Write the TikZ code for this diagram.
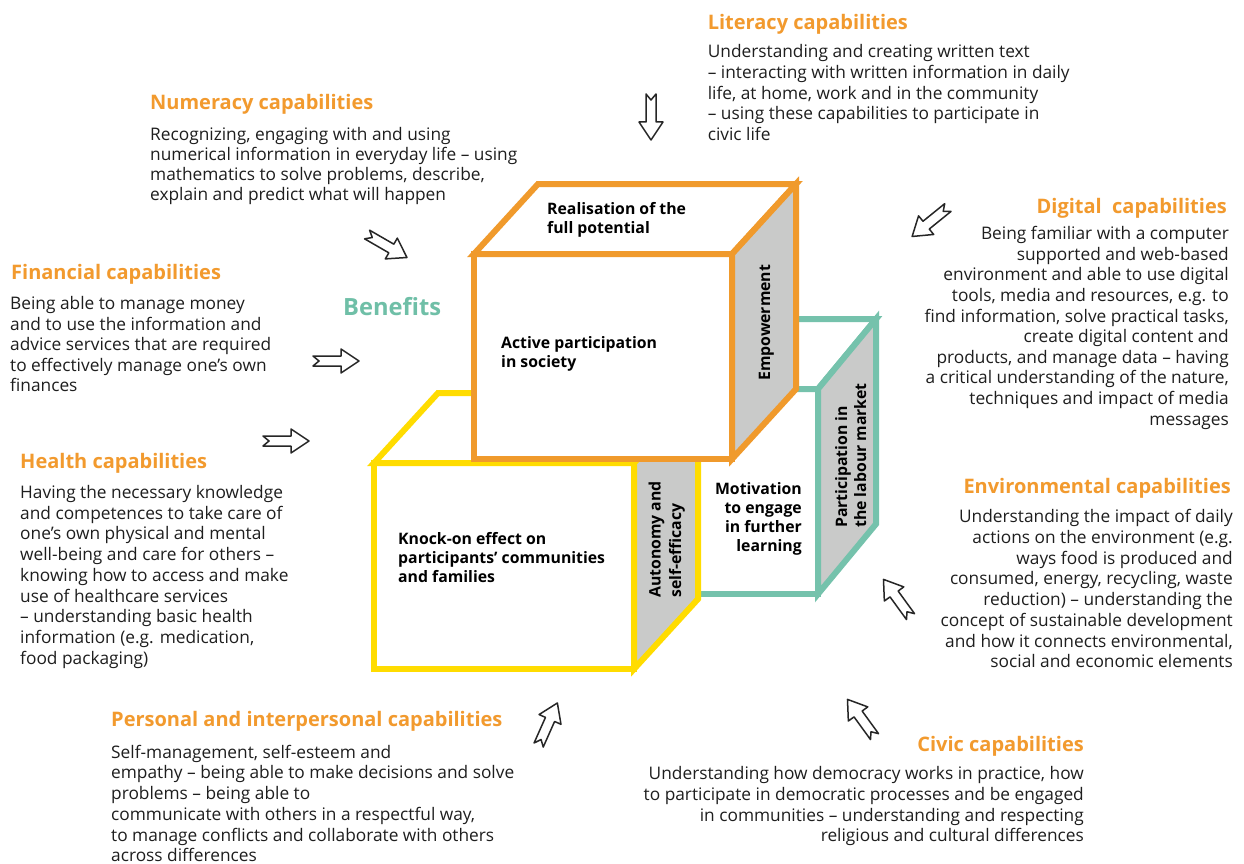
\documentclass[tikz,border=0pt]{standalone}
\usepackage{fontspec}
\setmainfont{Open Sans}
\usepackage{tikz}
\usetikzlibrary{positioning}
\definecolor{capOrange}{HTML}{F29A2E}
\definecolor{cubeOrange}{HTML}{F09A2C}
\definecolor{cubeYellow}{HTML}{FFDC00}
\definecolor{cubeTeal}{HTML}{75C2AC}
\definecolor{sideGray}{HTML}{C9CAC9}
\definecolor{benefitTeal}{HTML}{6FBFA7}
\definecolor{bodyText}{HTML}{1E1E1E}
\tikzset{caphead/.style={font=\fontsize{20}{24}\selectfont\bfseries, text=capOrange, inner sep=0pt},
  capbody/.style={font=\fontsize{17.3}{20.5}\selectfont, text=bodyText, inner sep=0pt, align=left},
  capbodyr/.style={capbody, align=right},
  cubelabel/.style={font=\fontsize{15.8}{19}\selectfont\bfseries, text=black, inner sep=0pt, align=left},
  cubeline/.style={line width=6pt},
  sketcharrow/.pic={\filldraw[fill=white, draw=black!85, line width=1.5pt, line join=round]
    (-23,-5) -- (5,-5) -- (5,-12) -- (23,0) -- (5,12) -- (5,5) -- (-23,5) -- (-17,0) -- cycle;},}
\begin{document}
\begin{tikzpicture}[x=1pt, y=-1pt]
       \fill[white] (0,0) rectangle (1244,864);
       \useasboundingbox (0,0) rectangle (1244,864);

       \filldraw[cubeline, draw=cubeTeal, fill=white] (558,389) rectangle (818,594);
       \filldraw[cubeline, draw=cubeTeal, fill=white] (558,389) -- ++(58,-70) -- ++(260,0) -- (818,389) -- cycle;
       \filldraw[cubeline, draw=cubeTeal, fill=sideGray] (818,389) -- ++(58,-70) -- ++(0,205) -- (818,594) -- cycle;

       \filldraw[cubeline, draw=cubeYellow, fill=white] (374,463) rectangle (634,669);
       \filldraw[cubeline, draw=cubeYellow, fill=white] (374,463) -- ++(64,-70) -- ++(260,0) -- (634,463) -- cycle;
       \filldraw[cubeline, draw=cubeYellow, fill=sideGray] (634,463) -- ++(64,-70) -- ++(0,206) -- (634,669) -- cycle;

       \filldraw[cubeline, draw=cubeOrange, fill=white] (474,254) rectangle (732,459);
       \filldraw[cubeline, draw=cubeOrange, fill=white] (474,254) -- ++(64,-70) -- ++(258,0) -- (732,254) -- cycle;
       \filldraw[cubeline, draw=cubeOrange, fill=sideGray] (732,254) -- ++(64,-70) -- ++(0,205) -- (732,459) -- cycle;

       \node[cubelabel, anchor=base west] (realisation) at (547,233.3) {Realisation of the\\full potential};
       \node[cubelabel, anchor=base west] (active) at (501,367.3) {Active participation\\in society};
       \node[cubelabel, anchor=base west, rotate=90] (empower) at (770,381) {Empowerment};
       \node[cubelabel, anchor=base west] (knockon) at (398,582) {Knock-on effect on\\participants’ communities\\and families};
       \node[cubelabel, font=\fontsize{15.8}{20.3}\selectfont\bfseries, anchor=base west, rotate=90] (autonomy) at (681,598) {Autonomy and\\self-efficacy};
       \node[cubelabel, anchor=base east, align=right] (motivation) at (802,551.7) {Motivation\\to engage\\in further\\learning};
       \node[cubelabel, anchor=base west, rotate=90] (labour) at (866,528) {Participation in\\the labour market};

       \node[font=\fontsize{23.7}{28}\selectfont\bfseries, text=benefitTeal, inner sep=0pt, anchor=base west] (benefits) at (343,315) {Benefits};

       \node[caphead, anchor=base west] (lithead) at (707.6,29.3) {Literacy capabilities};
       \node[capbody, below=110.7pt of lithead.base west, anchor=base west] (litbody) {Understanding and creating written text\\– interacting with written information in daily\\life, at home, work and in the community\\– using these capabilities to participate in\\civic life};

       \node[caphead, anchor=base west] (numhead) at (150,110) {Numeracy capabilities};
       \node[capbody, font=\fontsize{17.3}{20.2}\selectfont, below=90.7pt of numhead.base west, anchor=base west] (numbody) {Recognizing, engaging with and using\\numerical information in everyday life – using\\mathematics to solve problems, describe,\\explain and predict what will happen};

       \node[caphead, anchor=base west] (finhead) at (11,279.3) {Financial capabilities};
       \node[capbody, below=112.4pt of finhead.base west, anchor=base west, xshift=-1pt] (finbody) {Being able to manage money\\and to use the information and\\advice services that are required\\to effectively manage one’s own\\finances};

       \node[caphead, anchor=base west] (healthhead) at (20,468.3) {Health capabilities};
       \node[capbody, font=\fontsize{17.3}{20.75}\selectfont, below=196pt of healthhead.base west, anchor=base west] (healthbody) {Having the necessary knowledge\\and competences to take care of\\one’s own physical and mental\\well-being and care for others –\\knowing how to access and make\\use of healthcare services\\– understanding basic health\\information (e.g. medication,\\food packaging)};

       \node[caphead, anchor=base west] (perhead) at (111,726.7) {Personal and interpersonal capabilities};
       \node[capbody, font=\fontsize{17.3}{20.7}\selectfont, below=135pt of perhead.base west, anchor=base west] (perbody) {Self-management, self-esteem and\\empathy – being able to make decisions and solve\\problems – being able to\\communicate with others in a respectful way,\\to manage conflicts and collaborate with others\\across differences};

       \node[caphead, anchor=base east] (dighead) at (1227,213.3) {Digital\ \ capabilities};
       \node[capbodyr, font=\fontsize{17.3}{20.6}\selectfont, below=211.7pt of dighead.base east, anchor=base east, xshift=2pt] (digbody) {Being familiar with a computer\\supported and web-based\\environment and able to use digital\\tools, media and resources, e.g. to\\find information, solve practical tasks,\\create digital content and\\products, and manage data – having\\a critical understanding of the nature,\\techniques and impact of media\\messages};

       \node[caphead, anchor=base east] (envhead) at (1231,493.3) {Environmental capabilities};
       \node[capbodyr, font=\fontsize{17.3}{20.7}\selectfont, below=174.4pt of envhead.base east, anchor=base east, xshift=2pt] (envbody) {Understanding the impact of daily\\actions on the environment (e.g.\\ways food is produced and\\consumed, energy, recycling, waste\\reduction) – understanding the\\concept of sustainable development\\and how it connects environmental,\\social and economic elements};

       \node[caphead, anchor=base east] (civhead) at (1084,751.7) {Civic capabilities};
       \node[capbodyr, font=\fontsize{17.3}{20.6}\selectfont, below=90pt of civhead.base east, anchor=base east] (civbody) {Understanding how democracy works in practice, how\\to participate in democratic processes and be engaged\\in communities – understanding and respecting\\religious and cultural differences};

       \path (651,117) pic[rotate=-90] {sketcharrow};
       \path (387,246) pic[rotate=-30] {sketcharrow};
       \path (336,361) pic {sketcharrow};
       \path (286,441) pic {sketcharrow};
       \path (930,222) pic[rotate=-141] {sketcharrow};
       \path (897,598) pic[rotate=126] {sketcharrow};
       \path (861,718) pic[rotate=126] {sketcharrow};
       \path (548,724) pic[rotate=66] {sketcharrow};
\end{tikzpicture}
\end{document}
